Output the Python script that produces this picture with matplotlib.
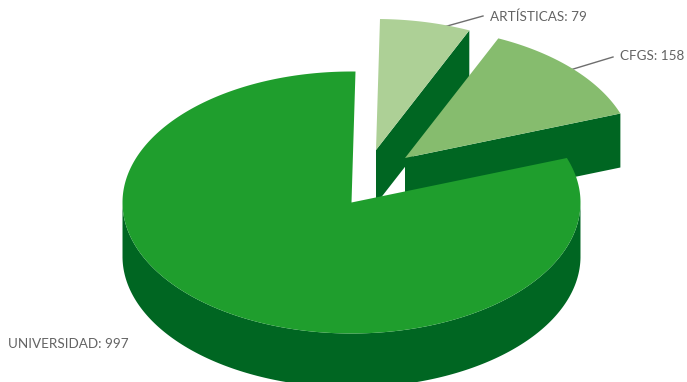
import numpy as np
import matplotlib
matplotlib.use('Agg')
import matplotlib.pyplot as plt
from matplotlib.patches import Polygon

categories = ['UNIVERSIDAD', 'CFGS', 'ARTÍSTICAS']
values = [997, 158, 79]

top_colors = ['#1f9e2d', '#86bc6e', '#add096']
side_color = '#006622'
text_color = '#636363'

# pie geometry in pixels
rx, ry = 229, 131
depth = 54
start = 89
centers = [(351.5, 202.5), (405, 158), (376, 150)]
label_pos = [(8, 343.5), (620, 56.5), (490, 16.5)]
leaders = [None, ((570, 70), (613, 57)), ((440, 28), (483, 16))]


def edge(cx, cy, a):
    t = np.radians(a)
    return np.column_stack([cx + rx * np.cos(t), cy - ry * np.sin(t)])


def draw_slice(cx, cy, a0, a1, color, z):
    a = np.linspace(a0, a1, 300)
    rim = edge(cx, cy, a)

    # outer wall, only the front half shows
    front = a[(np.mod(a, 360) >= 180)]
    if len(front):
        r = edge(cx, cy, front)
        wall = np.vstack([r, (r + [0, depth])[::-1]])
        ax.add_patch(Polygon(wall, fc=side_color, ec='none', zorder=z))

    # cut faces, skip the ones turned away from the viewer
    for ang, normal in ((a0, a0 - 90), (a1, a1 + 90)):
        if np.sin(np.radians(normal)) > -0.1:
            continue
        p = edge(cx, cy, np.array([ang]))[0]
        face = [(cx, cy), p, p + [0, depth], (cx, cy + depth)]
        ax.add_patch(Polygon(face, fc=side_color, ec='none', zorder=z))

    ax.add_patch(Polygon(np.vstack([[cx, cy], rim]), fc=color, ec='none', zorder=z + 0.5))


fig = plt.figure(figsize=(6.87, 3.82), dpi=100)
ax = fig.add_axes([0, 0, 1, 1])
ax.set_xlim(0, 687)
ax.set_ylim(382, 0)
ax.axis('off')

total = sum(values)
angles = [v / total * 360 for v in values]

# slices run counter clockwise from the top, drawn back to front
spans = []
a = start
for ang in angles:
    spans.append((a, a + ang))
    a += ang

for z, i in enumerate([2, 1, 0]):
    draw_slice(centers[i][0], centers[i][1], spans[i][0], spans[i][1], top_colors[i], z + 1)

for i, name in enumerate(categories):
    ax.text(label_pos[i][0], label_pos[i][1], f'{name}: {values[i]}', color=text_color,
            fontsize=9.7, family='Lato', va='center', ha='left', zorder=10)
    if leaders[i] is not None:
        (x0, y0), (x1, y1) = leaders[i]
        ax.plot([x0, x1], [y0, y1], color='#6e6e6e', lw=1, zorder=0)

fig.savefig('out.png', dpi=100)
